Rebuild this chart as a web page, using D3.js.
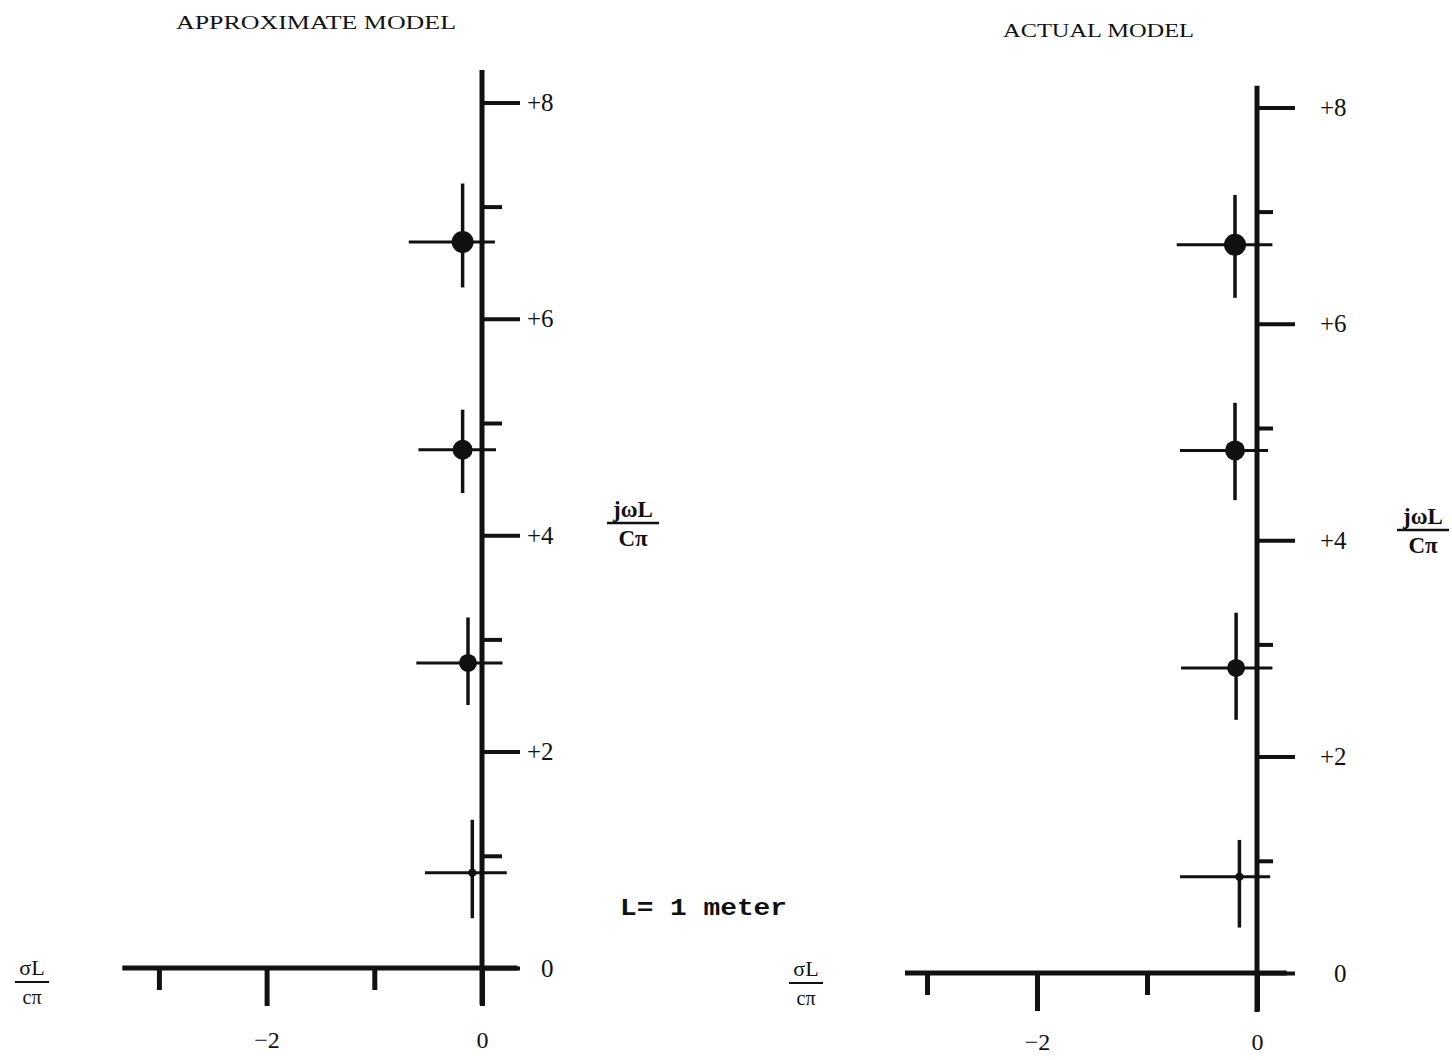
<!DOCTYPE html>
<html>
<head>
<meta charset="utf-8">
<script src="https://cdn.jsdelivr.net/npm/d3@7"></script>
<style>
  body { margin: 0; background: #fff; }
  svg { display: block; }
  text { fill: #111; }
</style>
</head>
<body>
<svg id="chart" width="1452" height="1060"></svg>
<script>
// pole positions (sigma L / c pi, omega L / c pi)
const approxSigma = [-0.09, -0.13, -0.18, -0.18];
const approxOmega = [0.88, 2.82, 4.79, 6.71];
const approxHLo = [-0.53, -0.61, -0.59, -0.68];
const approxHHi = [0.23, 0.19, 0.13, 0.12];
const approxVLo = [0.46, 2.43, 4.39, 6.29];
const approxVHi = [1.37, 3.24, 5.16, 7.25];
const approxDot = [4, 9, 10, 11];

const actualSigma = [-0.16, -0.19, -0.2, -0.2];
const actualOmega = [0.89, 2.82, 4.83, 6.73];
const actualHLo = [-0.7, -0.69, -0.7, -0.73];
const actualHHi = [0.12, 0.14, 0.1, 0.14];
const actualVLo = [0.42, 2.34, 4.37, 6.24];
const actualVHi = [1.23, 3.33, 5.27, 7.19];
const actualDot = [4, 9, 10, 11];

const evenTicks = [0, 2, 4, 6, 8];
const oddTicks = [1, 3, 5, 7];
const sigmaLongTicks = [-2, 0];
const sigmaShortTicks = [-3, -1];

const svg = d3.select('#chart');

const drawPanel = (cfg) => {
    let x = d3.scaleLinear().domain([-1, 0]).range([cfg.x0 - cfg.ux, cfg.x0]);
    let y = d3.scaleLinear().domain([0, 1]).range([cfg.y0, cfg.y0 - cfg.uy]);
    let g = svg.append("g");

    // axis lines
    g.append("line")
        .attr("x1", x(0)).attr("x2", x(0))
        .attr("y1", y(cfg.yTop)).attr("y2", y(cfg.yBottom))
        .attr("stroke", "#111").attr("stroke-width", 5);
    g.append("line")
        .attr("x1", x(cfg.xLeft)).attr("x2", x(cfg.xRight))
        .attr("y1", y(0)).attr("y2", y(0))
        .attr("stroke", "#111").attr("stroke-width", 5);

    // vertical axis ticks
    let yEven = g.append("g")
        .attr("transform", "translate(" + x(0) + ",0)")
        .call(d3.axisRight(y).tickValues(evenTicks).tickSize(38).tickPadding(cfg.labelPad)
            .tickFormat(d => d === 0 ? "0" : "+" + d));
    yEven.select(".domain").remove();
    yEven.selectAll(".tick line").attr("stroke", "#111").attr("stroke-width", 4);
    yEven.selectAll(".tick text")
        .attr("font-family", "Liberation Serif, serif").attr("font-size", 25).attr("fill", "#111")
        .attr("dx", d => d === 0 ? 14 : 0)
        .attr("dy", "0.32em");

    let yOdd = g.append("g")
        .attr("transform", "translate(" + x(0) + ",0)")
        .call(d3.axisRight(y).tickValues(oddTicks).tickSize(cfg.oddLen).tickFormat(""));
    yOdd.select(".domain").remove();
    yOdd.selectAll(".tick line").attr("stroke", "#111").attr("stroke-width", 4)
        .attr("transform", "translate(0,-4)");

    // horizontal axis ticks
    let xLong = g.append("g")
        .attr("transform", "translate(0," + y(0) + ")")
        .call(d3.axisBottom(x).tickValues(sigmaLongTicks).tickSize(38).tickPadding(cfg.bottomPad)
            .tickFormat(d => d === 0 ? "0" : "\u2212" + Math.abs(d)));
    xLong.select(".domain").remove();
    xLong.selectAll(".tick line").attr("stroke", "#111").attr("stroke-width", 5);
    xLong.selectAll(".tick text")
        .attr("font-family", "Liberation Serif, serif").attr("font-size", 24).attr("fill", "#111");

    let xShort = g.append("g")
        .attr("transform", "translate(0," + y(0) + ")")
        .call(d3.axisBottom(x).tickValues(sigmaShortTicks).tickSize(22).tickFormat(""));
    xShort.select(".domain").remove();
    xShort.selectAll(".tick line").attr("stroke", "#111").attr("stroke-width", 5);

    // poles with crosshairs
    let poles = cfg.sigma.map((s, i) => ({
        s: s, w: cfg.omega[i], hLo: cfg.hLo[i], hHi: cfg.hHi[i],
        vLo: cfg.vLo[i], vHi: cfg.vHi[i], r: cfg.dot[i]
    }));
    let pg = g.selectAll(".pole").data(poles).enter().append("g").attr("class", "pole");
    pg.append("line")
        .attr("x1", d => x(d.hLo)).attr("x2", d => x(d.hHi))
        .attr("y1", d => y(d.w)).attr("y2", d => y(d.w))
        .attr("stroke", "#111").attr("stroke-width", 3);
    pg.append("line")
        .attr("x1", d => x(d.s)).attr("x2", d => x(d.s))
        .attr("y1", d => y(d.vLo)).attr("y2", d => y(d.vHi))
        .attr("stroke", "#111").attr("stroke-width", 3.5);
    pg.append("circle")
        .attr("cx", d => x(d.s)).attr("cy", d => y(d.w))
        .attr("r", d => d.r).attr("fill", "#111");

    // titles and axis names
    g.append("text")
        .attr("x", cfg.titleX).attr("y", cfg.titleY)
        .attr("font-family", "Liberation Serif, serif").attr("font-size", 19)
        .attr("textLength", cfg.titleLen).attr("lengthAdjust", "spacingAndGlyphs")
        .text(cfg.title);

    let jw = g.append("g").attr("transform", "translate(" + cfg.jwX + "," + cfg.jwY + ")");
    jw.append("text").attr("x", 0).attr("y", 0).attr("text-anchor", "middle")
        .attr("font-family", "Liberation Serif, serif").attr("font-size", 23).attr("font-weight", "bold")
        .text("jωL");
    jw.append("line").attr("x1", -26).attr("x2", 26).attr("y1", 6).attr("y2", 6)
        .attr("stroke", "#111").attr("stroke-width", 2.5);
    jw.append("text").attr("x", 0).attr("y", 29).attr("text-anchor", "middle")
        .attr("font-family", "Liberation Serif, serif").attr("font-size", 23).attr("font-weight", "bold")
        .text("Cπ");

    let sg = g.append("g").attr("transform", "translate(" + cfg.sgX + "," + cfg.sgY + ")");
    sg.append("text").attr("x", 0).attr("y", 0).attr("text-anchor", "middle")
        .attr("font-family", "Liberation Serif, serif").attr("font-size", 22)
        .text("σL");
    sg.append("line").attr("x1", -17).attr("x2", 17).attr("y1", 7).attr("y2", 7)
        .attr("stroke", "#111").attr("stroke-width", 2);
    sg.append("text").attr("x", 0).attr("y", 29).attr("text-anchor", "middle")
        .attr("font-family", "Liberation Serif, serif").attr("font-size", 20)
        .text("cπ");
};

drawPanel({
    x0: 482, y0: 968, ux: 107.7, uy: 108.2,
    yTop: 8.3, yBottom: -0.34, xLeft: -3.34, xRight: 0.33,
    labelPad: 7, oddLen: 20, bottomPad: 25,
    sigma: approxSigma, omega: approxOmega, hLo: approxHLo, hHi: approxHHi,
    vLo: approxVLo, vHi: approxVHi, dot: approxDot,
    title: "APPROXIMATE MODEL", titleX: 176, titleY: 29, titleLen: 280,
    jwX: 633, jwY: 517, sgX: 32, sgY: 975
});

drawPanel({
    x0: 1257, y0: 973, ux: 110, uy: 108.2,
    yTop: 8.2, yBottom: -0.36, xLeft: -3.2, xRight: 0.27,
    labelPad: 25, oddLen: 16, bottomPad: 22,
    sigma: actualSigma, omega: actualOmega, hLo: actualHLo, hHi: actualHHi,
    vLo: actualVLo, vHi: actualVHi, dot: actualDot,
    title: "ACTUAL MODEL", titleX: 1003, titleY: 37, titleLen: 191,
    jwX: 1423, jwY: 524, sgX: 806, sgY: 976
});

svg.append("text")
    .attr("x", 620).attr("y", 915)
    .attr("font-family", "Liberation Mono, monospace").attr("font-size", 24).attr("font-weight", "bold")
    .attr("textLength", 167).attr("lengthAdjust", "spacingAndGlyphs")
    .text("L= 1 meter");
</script>
</body>
</html>
